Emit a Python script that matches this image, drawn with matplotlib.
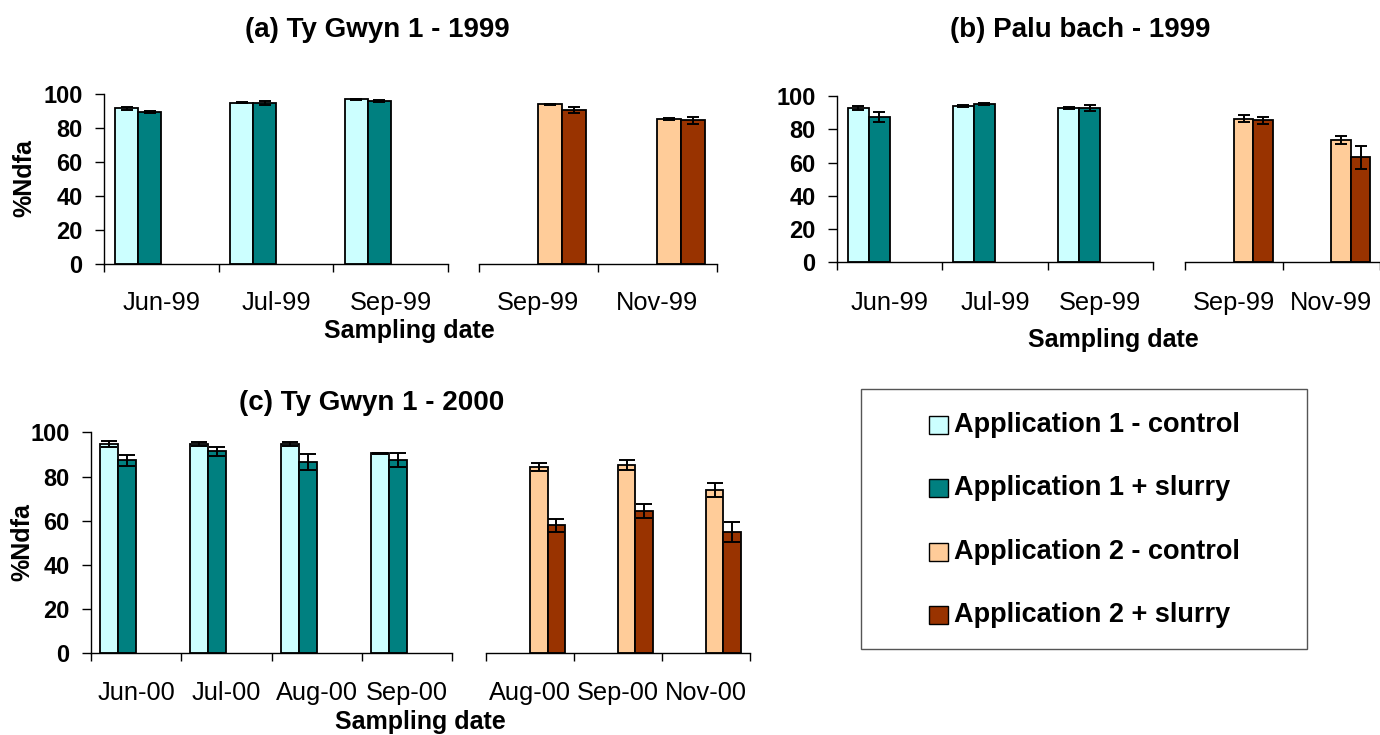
import matplotlib
matplotlib.use('Agg')
import matplotlib.pyplot as plt
import numpy as np
from matplotlib.patches import Rectangle

plt.rcParams['font.family'] = ['Liberation Sans', 'DejaVu Sans']

# panel (a) Ty Gwyn 1 - 1999
a_dates1 = ['Jun-99', 'Jul-99', 'Sep-99']
a_dates2 = ['Sep-99', 'Nov-99']
a_ctrl1 = [91.6, 94.9, 96.9]
a_ctrl1_err = [0.8, 0.4, 0.3]
a_slurry1 = [89.6, 94.8, 95.9]
a_slurry1_err = [0.5, 1.0, 0.5]
a_ctrl2 = [94.0, 85.5]
a_ctrl2_err = [0.2, 0.5]
a_slurry2 = [90.8, 84.5]
a_slurry2_err = [1.8, 2.2]

# panel (b) Palu bach - 1999
b_dates1 = ['Jun-99', 'Jul-99', 'Sep-99']
b_dates2 = ['Sep-99', 'Nov-99']
b_ctrl1 = [92.8, 94.0, 92.8]
b_ctrl1_err = [1.0, 0.8, 0.8]
b_slurry1 = [87.5, 95.2, 92.8]
b_slurry1_err = [3.0, 0.4, 1.7]
b_ctrl2 = [86.3, 73.7]
b_ctrl2_err = [2.0, 2.4]
b_slurry2 = [85.3, 63.2]
b_slurry2_err = [2.2, 6.8]

# panel (c) Ty Gwyn 1 - 2000
c_dates1 = ['Jun-00', 'Jul-00', 'Aug-00', 'Sep-00']
c_dates2 = ['Aug-00', 'Sep-00', 'Nov-00']
c_ctrl1 = [94.6, 94.6, 94.6, 90.5]
c_ctrl1_err = [1.3, 0.9, 0.8, 0.3]
c_slurry1 = [87.3, 91.4, 86.6, 87.3]
c_slurry1_err = [2.5, 2.0, 3.6, 3.2]
c_ctrl2 = [84.2, 85.1, 73.9]
c_ctrl2_err = [1.7, 2.3, 3.2]
c_slurry2 = [57.9, 64.4, 54.8]
c_slurry2_err = [3.0, 3.2, 4.4]

series_names = ['Application 1 - control', 'Application 1 + slurry',
                'Application 2 - control', 'Application 2 + slurry']
colors = ['#CCFFFF', '#008080', '#FFCC99', '#993300']

W, H = 1380, 735
fig = plt.figure(figsize=(W / 100, H / 100), dpi=100)


def rect(x0, x1, ytop, ybot):
  return [x0 / W, 1 - ybot / H, (x1 - x0) / W, (ybot - ytop) / H]


def style(ax, show_y):
  ax.set_ylim(0, 100)
  for s in ['top', 'right']:
    ax.spines[s].set_visible(False)
  ax.spines['bottom'].set_linewidth(1.0)
  ax.tick_params(axis='x', which='major', length=6, width=1, labelbottom=False)
  ax.tick_params(axis='x', which='minor', length=0)
  if show_y:
    ax.spines['left'].set_linewidth(1.0)
    ax.set_yticks(range(0, 101, 20))
    ax.tick_params(axis='y', length=6.5, width=1, pad=9, labelsize=17)
    for t in ax.get_yticklabels():
      t.set_fontweight('bold')
  else:
    ax.spines['left'].set_visible(False)
    ax.set_yticks([])


def bars(ax, xs, vals, errs, color, cap):
  ax.bar(xs, vals, width=0.2, color=color, edgecolor='black', linewidth=1.3,
         zorder=2)
  ax.errorbar(xs, vals, yerr=errs, fmt='none', ecolor='black', elinewidth=1.4,
              capsize=cap, capthick=1.4, zorder=3)


def panel(lx0, cw, y100, y0, left_end, right_start, right_end,
          dates1, dates2, c1, c1e, s1, s1e, c2, c2e, s2, s2e, cap, lab_off):
  n1, n2 = len(dates1), len(dates2)
  axl = fig.add_axes(rect(lx0, left_end, y100, y0))
  axr = fig.add_axes(rect(right_start, right_end, y100, y0))
  axl.set_xlim(0, (left_end - lx0) / cw)
  axr.set_xlim((right_start - lx0) / cw, (right_end - lx0) / cw)
  style(axl, True)
  style(axr, False)
  k1 = np.arange(n1)
  k2 = np.arange(n1, n1 + n2)
  bars(axl, k1 + 0.2, c1, c1e, colors[0], cap)
  bars(axl, k1 + 0.4, s1, s1e, colors[1], cap)
  bars(axr, k2 + 0.6, c2, c2e, colors[2], cap)
  bars(axr, k2 + 0.8, s2, s2e, colors[3], cap)
  axl.set_xticks(np.arange(0, n1 + 1))
  axr.set_xticks(np.arange(n1, n1 + n2 + 1))
  yoff = -lab_off / (y0 - y100)
  for ax, ks, labs in [(axl, k1, dates1), (axr, k2, dates2)]:
    for k, lab in zip(ks, labs):
      ax.text(k + 0.5, yoff, lab, transform=ax.get_xaxis_transform(),
              ha='center', va='center', fontsize=18.3, clip_on=False)


def ftext(x, y, s, **kw):
  fig.text(x / W, 1 - y / H, s, ha='center', va='center', fontweight='bold', **kw)


# (a)
panel(104, 122.5, 94, 264, 448, 479, 717, a_dates1, a_dates2,
      a_ctrl1, a_ctrl1_err, a_slurry1, a_slurry1_err,
      a_ctrl2, a_ctrl2_err, a_slurry2, a_slurry2_err, 4.5, 39)
ftext(377, 30, '(a) Ty Gwyn 1 - 1999', fontsize=20)
ftext(409, 331, 'Sampling date', fontsize=18)
ftext(24, 178, '%Ndfa', fontsize=18, rotation=90)

# (b)
panel(837, 110, 96, 262.3, 1153, 1185, 1380, b_dates1, b_dates2,
      b_ctrl1, b_ctrl1_err, b_slurry1, b_slurry1_err,
      b_ctrl2, b_ctrl2_err, b_slurry2, b_slurry2_err, 4.5, 41)
ftext(1080, 30, '(b) Palu bach - 1999', fontsize=20)
ftext(1113, 340, 'Sampling date', fontsize=18)

# (c)
panel(91, 94.1, 432.3, 653.3, 452, 486, 750, c_dates1, c_dates2,
      c_ctrl1, c_ctrl1_err, c_slurry1, c_slurry1_err,
      c_ctrl2, c_ctrl2_err, c_slurry2, c_slurry2_err, 6, 40)
ftext(372, 403, '(c) Ty Gwyn 1 - 2000', fontsize=20)
ftext(420, 722, 'Sampling date', fontsize=18)
ftext(22, 542, '%Ndfa', fontsize=18, rotation=90)

# legend box
fig.patches.append(Rectangle((861 / W, 1 - 649 / H), (1307 - 861) / W,
                             (649 - 389) / H, transform=fig.transFigure,
                             facecolor='white', edgecolor='#555555',
                             linewidth=1.0, zorder=0))
for name, col, yc in zip(series_names, colors, [425, 488, 552, 615]):
  fig.patches.append(Rectangle((929 / W, 1 - (yc + 9) / H), 19 / W, 18 / H,
                               transform=fig.transFigure, facecolor=col,
                               edgecolor='black', linewidth=1.0))
  fig.text(954 / W, 1 - yc / H, name, ha='left', va='center',
           fontweight='bold', fontsize=19.5)

fig.savefig('out.png', dpi=100)
